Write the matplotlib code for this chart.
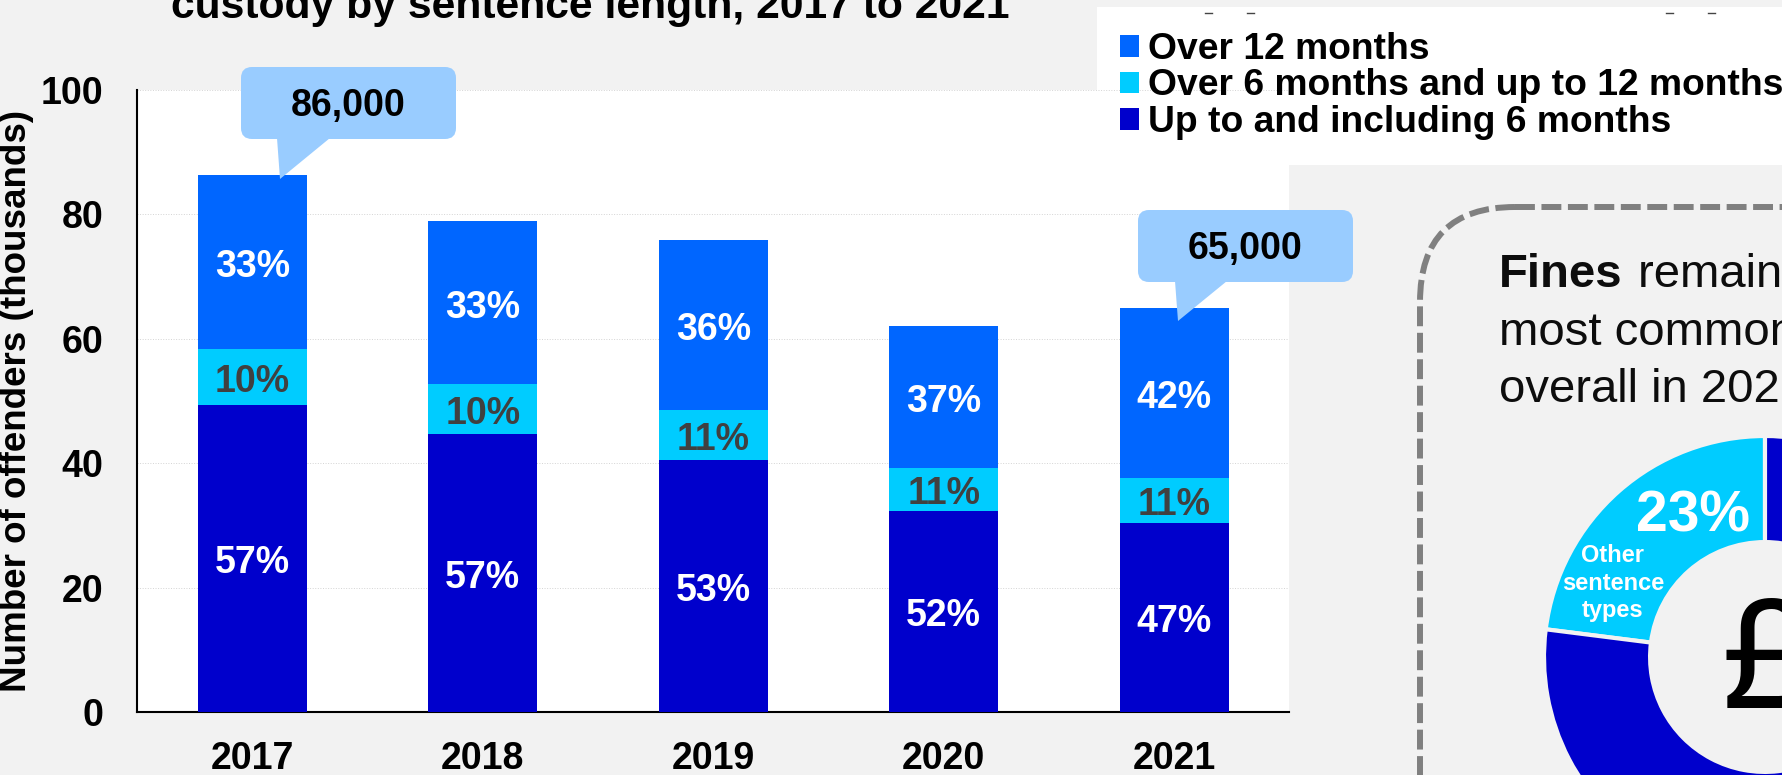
import matplotlib
matplotlib.use('Agg')
import matplotlib.pyplot as plt
from matplotlib.patches import FancyBboxPatch, Polygon, Rectangle

# === DATA ===

YEARS = ['2017', '2018', '2019', '2020', '2021']
UP_TO_6 = [49.4, 44.7, 40.5, 32.3, 30.4]
OVER_6 = [9.0, 8.0, 8.0, 6.9, 7.2]
OVER_12 = [27.9, 26.2, 27.4, 22.8, 27.4]
PCT_UP_TO_6 = ['57%', '57%', '53%', '52%', '47%']
PCT_OVER_6 = ['10%', '10%', '11%', '11%', '11%']
PCT_OVER_12 = ['33%', '33%', '36%', '37%', '42%']
SERIES_NAMES = ['Up to and including 6 months', 'Over 6 months and up to 12 months', 'Over 12 months']
YTICKS = [0, 20, 40, 60, 80, 100]
DONUT_VALUES = [23, 77]

# === STYLE ===

W, H = 1783, 775
GREY = '#F2F2F2'
DARK = '#0000CC'
MID = '#00CCFF'
BLUE = '#0066FF'
CALLOUT = '#99CCFF'
FONT = 27

plt.rcParams['font.family'] = 'Liberation Sans'
plt.rcParams['font.weight'] = 'bold'

fig = plt.figure(figsize=(W / 100, H / 100), dpi=100, facecolor=GREY)


def pixel_axes(zorder):
    ax = fig.add_axes([0, 0, 1, 1], zorder=zorder)
    ax.set_xlim(0, W)
    ax.set_ylim(H, 0)
    ax.axis('off')
    return ax


# white box behind the legend
back = pixel_axes(0)
back.add_patch(Rectangle((1097, 7), 686, 158, facecolor='white', edgecolor='none'))
for speck in [1205, 1247, 1666, 1708]:
    back.plot([speck, speck + 7], [13, 13], color='#444444', lw=1)

# === BARS ===

ax = fig.add_axes([137 / W, (H - 712) / H, (1289.5 - 137) / W, (712 - 90) / H], zorder=1)
x = range(len(YEARS))
b1 = ax.bar(x, UP_TO_6, width=0.475, color=DARK, label=SERIES_NAMES[0], zorder=3)
bottom2 = [a for a in UP_TO_6]
b2 = ax.bar(x, OVER_6, width=0.475, bottom=bottom2, color=MID, label=SERIES_NAMES[1], zorder=3)
bottom3 = [a + b for a, b in zip(UP_TO_6, OVER_6)]
b3 = ax.bar(x, OVER_12, width=0.475, bottom=bottom3, color=BLUE, label=SERIES_NAMES[2], zorder=3)
labels = ax.bar_label(b1, PCT_UP_TO_6, label_type='center', color='white', fontsize=FONT, zorder=4)
labels += ax.bar_label(b2, PCT_OVER_6, label_type='center', color='#404040', fontsize=FONT, zorder=4)
labels += ax.bar_label(b3, PCT_OVER_12, label_type='center', color='white', fontsize=FONT, zorder=4)
# nudge the percentages down a little
for t in labels:
    t.xyann = (0, -3.5)

ax.set_xlim(-0.5, 4.5)
ax.set_ylim(0, 100)
ax.set_yticks(YTICKS)
ax.set_xticks(list(x))
ax.set_xticklabels(YEARS)
ax.tick_params(length=0, labelsize=FONT)
ax.tick_params(axis='y', pad=24)
ax.tick_params(axis='x', pad=21)
ax.yaxis.grid(True, color='#D4D4D4', lw=0.7, ls=':', zorder=0)
ax.set_axisbelow(True)
for side in ['top', 'right']:
    ax.spines[side].set_visible(False)
for side in ['left', 'bottom']:
    ax.spines[side].set_linewidth(1.5)

handles = [b3, b2, b1]
ax.legend(handles, [SERIES_NAMES[2], SERIES_NAMES[1], SERIES_NAMES[0]], loc='upper left',
          bbox_to_anchor=(1120 / W, (H - 32) / H), bbox_transform=fig.transFigure, frameon=False,
          fontsize=26.8, borderpad=0, borderaxespad=0, labelspacing=0.04,
          handlelength=0.51, handleheight=0.51, handletextpad=0.24)

# === DONUT ===

cx, cy, r = 1765, 657, 221
donut = fig.add_axes([(cx - r) / W, (H - cy - r) / H, 2 * r / W, 2 * r / H], zorder=2)
donut.pie(DONUT_VALUES, colors=[MID, DARK], startangle=90, radius=1,
          wedgeprops=dict(width=0.48, edgecolor=GREY, linewidth=3))
donut.set_xlim(-1, 1)
donut.set_ylim(-1, 1)
donut.patch.set_visible(False)

# === OVERLAY: title, callouts, note ===

top = pixel_axes(3)
top.text(590, 18, 'custody by sentence length, 2017 to 2021', ha='center', va='baseline', fontsize=30.7)
top.text(26, 401, 'Number of offenders (thousands)', rotation=90, ha='center', va='baseline',
         rotation_mode='anchor', fontsize=26.5)

for (x0, y0, x1, y1), tail, label in [
    ((241, 67, 456, 139), [(277, 138), (330, 138), (280, 179)], '86,000'),
    ((1138, 210, 1353, 282), [(1175, 281), (1227, 281), (1178, 321)], '65,000'),
]:
    top.add_patch(FancyBboxPatch((x0, y0), x1 - x0, y1 - y0, boxstyle='round,pad=0,rounding_size=11',
                                 facecolor=CALLOUT, edgecolor='none'))
    top.add_patch(Polygon(tail, closed=True, facecolor=CALLOUT, edgecolor='none'))
    top.text((x0 + x1) / 2, y0 + 39, label, ha='center', va='center', fontsize=FONT)

top.add_patch(FancyBboxPatch((1420, 207), 700, 800, boxstyle='round,pad=0,rounding_size=95',
                             facecolor='none', edgecolor='#808080', lw=4.3, ls=(0, (3.33, 1.1))))

NOTE = '#0D0D0D'
top.text(1499, 287, 'Fines', fontsize=34, color=NOTE, va='baseline')
top.text(1638, 287, 'remained the', fontsize=34, color=NOTE, va='baseline', weight='normal')
top.text(1499, 345, 'most common sentence', fontsize=34, color=NOTE, va='baseline', weight='normal')
top.text(1499, 402, 'overall in 2021', fontsize=34, color=NOTE, va='baseline', weight='normal')

top.text(1693, 532, '23%', fontsize=41, color='white', ha='center', va='baseline')
top.text(1613, 562, 'Other', fontsize=17, color='white', ha='center', va='baseline')
top.text(1613, 590, 'sentence', fontsize=17, color='white', ha='center', va='baseline')
top.text(1613, 617, 'types', fontsize=17, color='white', ha='center', va='baseline')
top.text(1765, 708, '£', fontsize=113, color='black', ha='center', va='baseline', weight='normal')

fig.savefig('out.png', dpi=100, facecolor=GREY)
